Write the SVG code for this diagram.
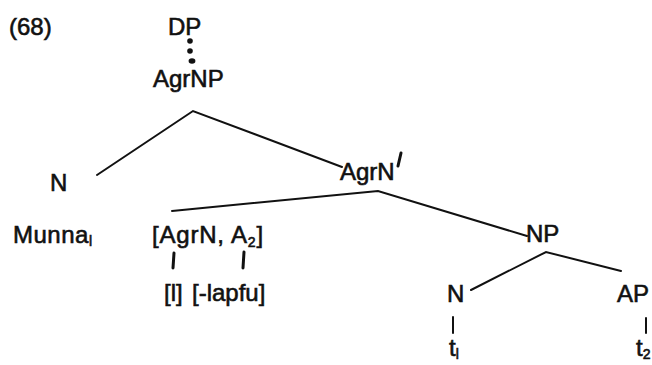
<svg xmlns="http://www.w3.org/2000/svg" width="652" height="365" viewBox="0 0 652 365">
<style>
text{font-family:"Liberation Sans",Arial,sans-serif;font-size:24px;fill:#111;stroke:#111;stroke-width:0.6}
.sub{font-size:14px}
.e{stroke:#111;stroke-width:2;fill:none;stroke-linecap:round}
.t{stroke:#111;stroke-width:3;fill:none;stroke-linecap:round}
</style>
<rect width="652" height="365" fill="#fff"/>
<g id="label68"><text x="9" y="35">(68)</text></g>
<g id="DP"><text x="168" y="35">DP</text></g>
<g id="AgrNP"><text x="153" y="87">AgrNP</text></g>
<g id="N1"><text x="50" y="191">N</text></g>
<g id="AgrNbar"><text x="340" y="180">AgrN</text><path d="M401 153 L398 166" class="t" stroke-width="4"/></g>
<g id="Munna"><text x="13" y="243" letter-spacing="0.5">Munna<tspan class="sub" dy="3">l</tspan></text></g>
<g id="AgrNA"><text x="152" y="243" letter-spacing="0.8">[AgrN, A<tspan class="sub" dy="4">2</tspan><tspan dy="-4">]</tspan></text></g>
<g id="l"><text x="164" y="301">[l]</text></g>
<g id="lapfu"><text x="192" y="301">[-lapfu]</text></g>
<g id="NP"><text x="526" y="242">NP</text></g>
<g id="N2"><text x="447" y="302">N</text></g>
<g id="AP"><text x="617" y="302">AP</text></g>
<g id="t1"><text x="449" y="356">t<tspan class="sub" dy="3">l</tspan></text></g>
<g id="t2"><text x="636" y="356">t<tspan class="sub" dy="3">2</tspan></text></g>
<g id="connectors">
<circle cx="190" cy="41" r="2.8" fill="#111"/>
<circle cx="190" cy="51" r="2.8" fill="#111"/>
<ellipse cx="192" cy="61" rx="3.4" ry="2.8" fill="#111"/>
<path class="e" d="M97 175 L193 111 L342 167"/>
<path class="e" d="M172 211 L378 191 L527 236"/>
<path class="e" d="M471 290 L546 252 L621 271"/>
<path class="t" d="M174 253 L173 268"/>
<path class="t" d="M244 252 L243 268"/>
<path class="e" d="M453 317 L453 333"/>
<path class="e" d="M646 318 L646 333"/>
</g>
</svg>
